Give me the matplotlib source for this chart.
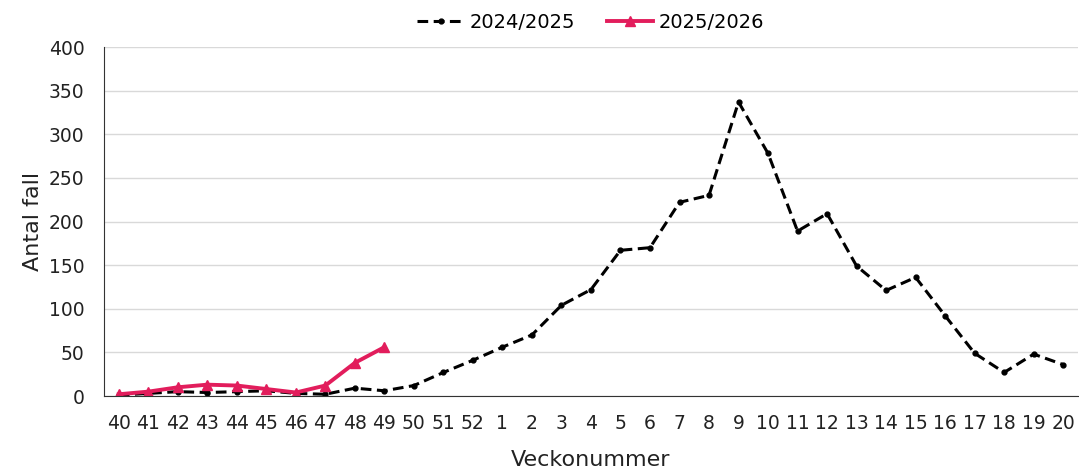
import matplotlib
matplotlib.use("Agg")
import matplotlib.pyplot as plt

weeks = ['40', '41', '42', '43', '44', '45', '46', '47', '48', '49', '50', '51', '52',
         '1', '2', '3', '4', '5', '6', '7', '8', '9', '10', '11', '12', '13', '14',
         '15', '16', '17', '18', '19', '20']
season_2425 = [1, 3, 5, 4, 5, 6, 3, 2, 9, 6, 12, 27, 41, 56, 70, 104, 122, 167, 170,
               222, 230, 337, 278, 189, 209, 149, 121, 136, 92, 49, 27, 48, 36]
season_2526 = [2, 5, 10, 13, 12, 8, 4, 12, 38, 56]

fig = plt.figure(figsize=(10.79, 4.72), dpi=100)
ax = fig.add_axes([0.0964, 0.161, 0.9026, 0.7394])

x = list(range(len(weeks)))
ax.plot(x, season_2425, color='black', linestyle=(0, (3.5, 1.8)), linewidth=2.2,
        marker='o', markersize=3.5, label='2024/2025')
ax.plot(x[:len(season_2526)], season_2526, color='#e21d5c', linewidth=2.8,
        marker='^', markersize=7, label='2025/2026')

ax.set_xlim(-0.5, len(weeks) - 0.5)
ax.set_ylim(0, 400)
ax.set_yticks(range(0, 401, 50))
ax.set_xticks(x)
ax.set_xticklabels(weeks)
ax.tick_params(axis='both', length=0, labelsize=13.5, colors='#222222')
ax.tick_params(axis='y', pad=14)
ax.tick_params(axis='x', pad=13)
ax.grid(axis='y', color='#d9d9d9', linewidth=1)
ax.set_axisbelow(True)
for s in ['top', 'right']:
    ax.spines[s].set_visible(False)
ax.spines['left'].set_color('#333333')
ax.spines['bottom'].set_color('#333333')

ax.set_ylabel('Antal fall', fontsize=16, color='#222222', labelpad=4)
ax.set_xlabel('Veckonummer', fontsize=16, color='#222222', labelpad=12)

ax.legend(loc='lower center', bbox_to_anchor=(0.5, 1.005), ncol=2, frameon=False,
          fontsize=14, handlelength=2.4, handletextpad=0.3, columnspacing=1.6,
          borderaxespad=0.3)

fig.savefig('out.png', dpi=100)
